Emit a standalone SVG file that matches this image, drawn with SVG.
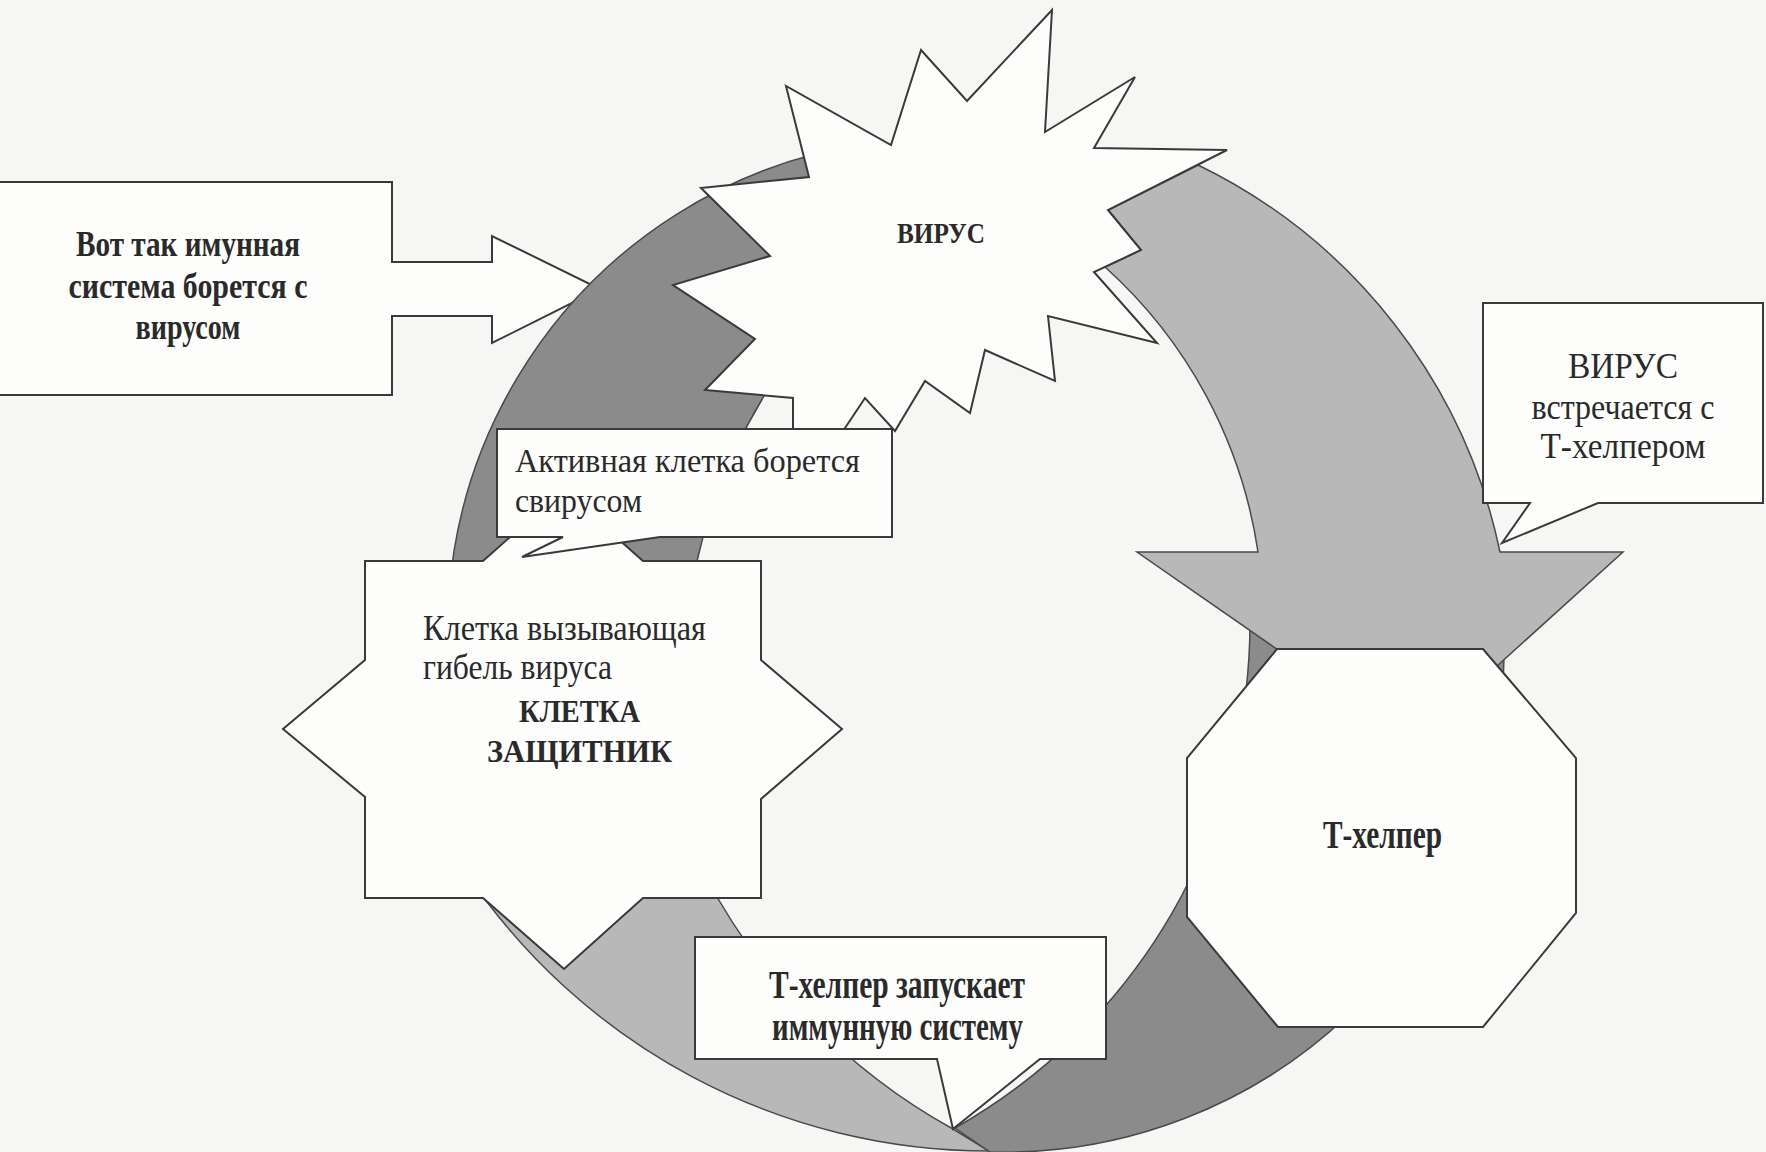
<svg xmlns="http://www.w3.org/2000/svg" width="1766" height="1152" viewBox="0 0 1766 1152">
<style>
.bg{fill:#f6f6f4}
.shape{fill:#fdfdfc;stroke:#3a3a3a;stroke-width:2;stroke-linejoin:miter}
.dark{fill:#8b8b8b;stroke:#4a4a4a;stroke-width:1.5}
.light{fill:#b8b8b8;stroke:#4a4a4a;stroke-width:1.5}
text{font-family:'Liberation Serif','DejaVu Serif','Noto Serif',serif;fill:#2a2a2a}
.b{font-weight:bold}
.c{text-anchor:middle}
</style>
<rect class="bg" x="0" y="0" width="1766" height="1152"/>

<g id="node-intro">
<path class="shape" d="M -5,182 H 392 V 262 H 492 V 236 L 600,289 L 492,343 V 316 H 392 V 395 H -5 Z"/>
<text class="b c" x="188" y="256" font-size="36" textLength="224" lengthAdjust="spacingAndGlyphs">Вот так имунная</text>
<text class="b c" x="188" y="298" font-size="36" textLength="239" lengthAdjust="spacingAndGlyphs">система борется с</text>
<text class="b c" x="188" y="339" font-size="36" textLength="105" lengthAdjust="spacingAndGlyphs">вирусом</text>
</g>

<g id="connectors">
<path id="band-bottom-left" class="light" d="M 465,871 A 630 630 0 0 0 989,1151 L 953,1129 A 619 619 0 0 1 705,875 Z"/>
<path id="band-bottom-right" class="dark" d="M 1250,620 A 581 581 0 0 1 955,1128 L 990,1152 A 500 500 0 0 0 1503,620 Z"/>
<path id="band-left" class="dark" d="M 478,800 A 492 492 0 0 1 870,143 L 880,250 C 760,370 715,480 697,561 L 700,800 Z"/>
<path id="band-right" class="light" d="M 1198,165 A 557 557 0 0 1 1500,552 L 1623,552 L 1412,743 L 1137,552 L 1258,552 A 477 477 0 0 0 1105,267 L 1141,250 L 1108,210 Z"/>
</g>

<g id="node-virus">
<path class="shape" d="M 701,188 L 809,177 L 786,86 L 891,145 L 921,50 L 967,101 L 1052,10 L 1045,132 L 1135,77 L 1094,148 L 1227,150 L 1108,210 L 1141,250 L 1094,272 L 1157,343 L 1048,316 L 1055,381 L 985,350 L 970,413 L 925,381 L 895,431 L 865,398 L 837,440 L 793,440 L 793,398 L 705,390 L 755,339 L 673,285 L 770,256 Z"/>
<text class="b c" x="941" y="243" font-size="30" textLength="88" lengthAdjust="spacingAndGlyphs">ВИРУС</text>
</g>

<g id="node-defender">
<path class="shape" d="M 365,561 H 483 L 563,490 L 643,561 H 761 V 660 L 842,729 L 761,799 V 898 H 643 L 564,969 L 483,898 H 365 V 797 L 283,729 L 365,660 Z"/>
<text x="423" y="640" font-size="36" textLength="283" lengthAdjust="spacingAndGlyphs">Клетка вызывающая</text>
<text x="423" y="679" font-size="36" textLength="189" lengthAdjust="spacingAndGlyphs">гибель вируса</text>
<text class="b" x="519" y="722" font-size="32" textLength="121" lengthAdjust="spacingAndGlyphs">КЛЕТКА</text>
<text class="b" x="487" y="762" font-size="32" textLength="185" lengthAdjust="spacingAndGlyphs">ЗАЩИТНИК</text>
</g>

<g id="node-thelper">
<path class="shape" d="M 1277,649 H 1483 L 1576,758 V 913 L 1483,1027 H 1278 L 1187,917 V 758 Z"/>
<text class="b" x="1323" y="848" font-size="40" textLength="119" lengthAdjust="spacingAndGlyphs">Т-хелпер</text>
</g>

<g id="node-active-callout">
<path class="shape" d="M 497,429 H 892 V 537 H 660 L 522,557 L 563,537 H 497 Z"/>
<text x="515" y="472" font-size="33" textLength="345" lengthAdjust="spacingAndGlyphs">Активная клетка борется</text>
<text x="515" y="512" font-size="33" textLength="127" lengthAdjust="spacingAndGlyphs">свирусом</text>
</g>

<g id="node-meet-callout">
<path class="shape" d="M 1483,303 H 1763 V 503 H 1598 L 1502,543 L 1530,503 H 1483 Z"/>
<text class="c" x="1623" y="378" font-size="35" textLength="110" lengthAdjust="spacingAndGlyphs">ВИРУС</text>
<text class="c" x="1623" y="419" font-size="35" textLength="183" lengthAdjust="spacingAndGlyphs">встречается с</text>
<text class="c" x="1623" y="458" font-size="35" textLength="165" lengthAdjust="spacingAndGlyphs">Т-хелпером</text>
</g>

<g id="node-launch-callout">
<path class="shape" d="M 695,937 H 1106 V 1059 H 1040 L 953,1129 L 937,1059 H 695 Z"/>
<text class="b" x="769" y="998" font-size="40" textLength="256" lengthAdjust="spacingAndGlyphs">Т-хелпер запускает</text>
<text class="b" x="772" y="1040" font-size="40" textLength="251" lengthAdjust="spacingAndGlyphs">иммунную систему</text>
</g>
</svg>
